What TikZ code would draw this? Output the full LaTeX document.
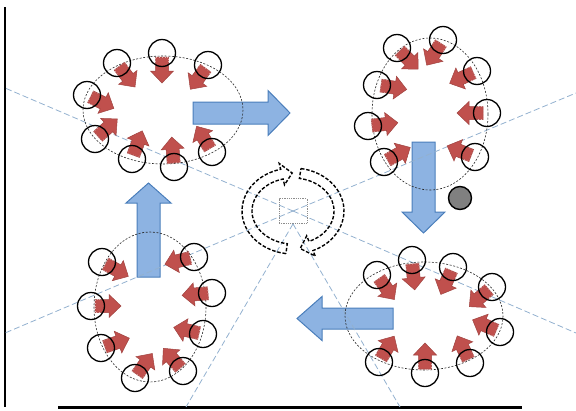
\documentclass[tikz,border=0pt]{standalone}
\usetikzlibrary{calc}
\definecolor{ringred}{HTML}{C0504D}
\definecolor{ringredline}{HTML}{A04340}
\definecolor{flowblue}{HTML}{8DB3E2}
\definecolor{flowblueline}{HTML}{4A7EBB}
\definecolor{rayblue}{HTML}{93B1CF}

% fat arrow: #1 style, #2 tail, #3 tip, #4 shaft half width, #5 head half width, #6 head length
\newcommand{\fatarrow}[6]{%
  \coordinate (fa-t) at (#2);
  \coordinate (fa-p) at (#3);
  \coordinate (fa-h) at ($(fa-p)!#6pt!(fa-t)$);
  \path[#1] ($(fa-t)!#4pt!90:(fa-p)$) -- ($(fa-h)!#4pt!90:(fa-p)$) -- ($(fa-h)!#5pt!90:(fa-p)$)
    -- (fa-p) -- ($(fa-h)!#5pt!-90:(fa-p)$) -- ($(fa-h)!#4pt!-90:(fa-p)$) -- ($(fa-t)!#4pt!-90:(fa-p)$) -- cycle;
}
% hollow ring arrow: #1 start angle, #2 head base angle, #3 tip angle
\newcommand{\ringarrow}[3]{%
  \draw[ringline] ({51*cos(#1)},{43*sin(#1)}) arc[start angle=#1, end angle=#2, x radius=51, y radius=43]
    -- ({57*cos(#2)},{49*sin(#2)}) -- ({46*cos(#3)},{38*sin(#3)}) -- ({35*cos(#2)},{27*sin(#2)})
    -- ({41*cos(#2)},{33*sin(#2)}) arc[start angle=#2, end angle=#1, x radius=41, y radius=33] -- cycle;
}

\begin{document}
\begin{tikzpicture}[
  x=1pt, y=-1pt,
  bluearrow/.style={fill=flowblue, draw=flowblueline, line width=1pt, line join=miter},
  redarrow/.style={fill=ringred, draw=ringredline, line width=0.5pt, line join=miter},
  tailedge/.style={draw=ringred!45!white, line width=0.8pt, dotted},
  member/.style={draw=black, line width=1.3pt},
  cluster/.style={draw=black!85, line width=0.6pt, dash pattern=on 2pt off 1.6pt},
  ray/.style={draw=rayblue, line width=0.8pt, dash pattern=on 6pt off 3pt},
  ringline/.style={draw=black, line width=1.4pt, dash pattern=on 3.5pt off 1.8pt},
  hubbox/.style={draw=black!45, line width=0.8pt, densely dotted, minimum width=28pt, minimum height=25pt, inner sep=0pt}
]
  \useasboundingbox (0,0) rectangle (576,410);

  % --- Axes ---
  \draw[line width=2.5pt] (5,7) -- (5,407);
  \draw[line width=3pt] (58,407) -- (522,407);

  % --- Blue transition arrows ---
  \fatarrow{bluearrow}{193,113}{290,113}{11}{22.5}{22}
  \fatarrow{bluearrow}{423.5,142}{423.5,233}{11.5}{21.5}{21}
  \fatarrow{bluearrow}{393,318.5}{297,318.5}{10.5}{22}{25}
  \fatarrow{bluearrow}{148.5,277}{148.5,183}{11.5}{22.5}{20}

  % --- Hub and rays ---
  \node[hubbox] (hub) at (293,211) {};
  \foreach \ex/\ey in {5/88, 576/93, 576/333, 5/333}
    \draw[ray] (hub.center) -- (\ex,\ey);
  \foreach \ex in {186, 400}
    \draw[ray] (hub.south) -- (\ex,407);

  % --- Ring of arrows round the hub ---
  \begin{scope}[shift={(hub.center)}]
    \ringarrow{98}{256}{269}
    \ringarrow{279}{427}{441}
  \end{scope}

  % --- Clusters ---
  \coordinate (tl) at (163,110);
  \coordinate (tr) at (430,114);
  \coordinate (bl) at (150,307);
  \coordinate (br) at (424,316);
  \draw[cluster] (tl) ellipse[x radius=80, y radius=54];
  \draw[cluster] (tr) ellipse[x radius=58, y radius=76];
  \draw[cluster] (bl) ellipse[x radius=56, y radius=75];
  \draw[cluster] (br) ellipse[x radius=79, y radius=54];

  % members: centre x/y and direction of the red arrow
  \foreach \cx/\cy/\dx/\dy in {
      162/53/0/1, 117/63/45/60, 208/65/-40/55, 87/95/70/35,
      95/139/50/-45, 132/159/20/-55, 174/167/-5/-65, 212/152/-30/-50,
      443/40/-11/17, 397/48/15/15, 477/71/-22/10, 377/85/20/3,
      487/113/-23/0, 368/126/27/-3, 475/157/-20/-8, 384/162/18/-10,
      102/262/22/12, 194/257/-20/5, 91/306/27/0, 212/293/-25/2,
      101/348/23/-8, 203/334/-22/-5, 135/378/12/-17, 183/371/-13/-15,
      412/260/2/22, 377/275/12/17, 453/267/-8/18, 492/287/-15/13,
      500/332/-18/-8, 379/362/10/-17, 470/363/-8/-17, 425/373/0/-20}
  {
    \coordinate (rc) at (\cx,\cy);
    \coordinate (rd) at ({\cx+\dx},{\cy+\dy});
    \fatarrow{redarrow}{$(rc)!4pt!(rd)$}{$(rc)!30pt!(rd)$}{6.5}{11.5}{12}
    \coordinate (fa-m) at ($(fa-t)!8pt!(fa-p)$);
    \draw[tailedge] ($(fa-m)!6.5pt!90:(fa-p)$) -- ($(fa-t)!6.5pt!90:(fa-p)$)
      -- ($(fa-t)!6.5pt!-90:(fa-p)$) -- ($(fa-m)!6.5pt!-90:(fa-p)$);
    \draw[member] (rc) circle[radius=13.5];
  }

  % --- Grey ball ---
  \draw[fill=black!50, line width=1.4pt] (460,198) circle[radius=11.5];

\end{tikzpicture}
\end{document}
